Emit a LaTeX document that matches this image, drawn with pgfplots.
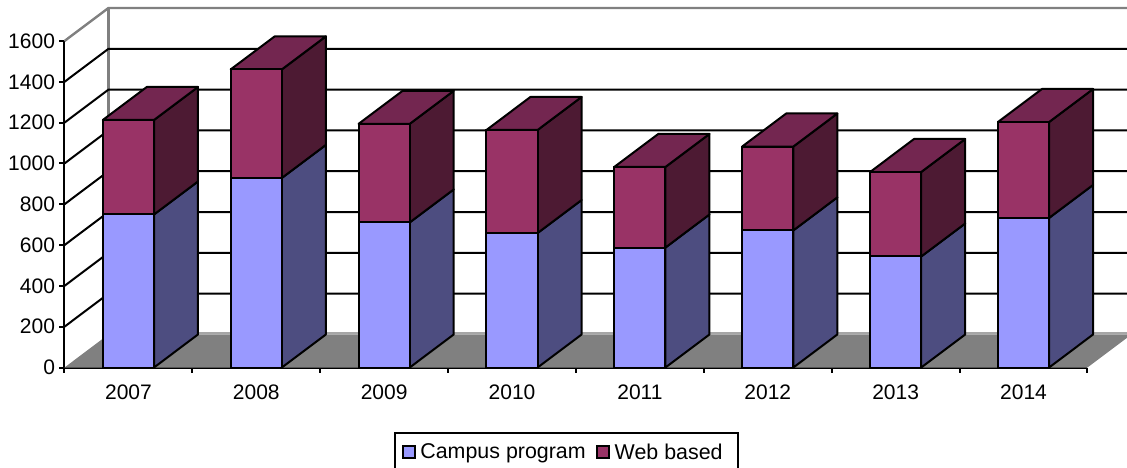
\documentclass[border=0pt]{standalone}
\usepackage{pgfplots}
\pgfplotsset{compat=1.18}
\usepackage{fontspec}
\setmainfont{Liberation Sans}
\definecolor{campus}{HTML}{9999FF}
\definecolor{campusside}{HTML}{4D4D80}
\definecolor{web}{HTML}{993366}
\definecolor{webside}{HTML}{4D1A33}
\definecolor{webtop}{HTML}{732650}
\definecolor{wall}{HTML}{808080}
\definecolor{floorback}{HTML}{A6A6A6}
% depth of the 3D view in data units
\def\ddx{0.344}
\def\ddy{161.8}
\newcommand{\gridl}[1]{%
  \pgfmathsetmacro\ya{#1+\ddy}%
  \edef\temp{\noexpand\addplot[forget plot,black,line width=2pt] coordinates {(0,#1)(\ddx,\ya)(8.344,\ya)};}\temp}
% args: left edge of bar, campus value, web value
\newcommand{\barfaces}[3]{%
  \pgfmathsetmacro\xr{#1+0.4}%
  \pgfmathsetmacro\xrb{#1+0.4+\ddx}%
  \pgfmathsetmacro\xlb{#1+\ddx}%
  \pgfmathsetmacro\yt{#2+#3}%
  \pgfmathsetmacro\ybz{\ddy}%
  \pgfmathsetmacro\ybc{#2+\ddy}%
  \pgfmathsetmacro\ybt{#2+#3+\ddy}%
  \edef\temp{\noexpand\addplot[forget plot,draw=black,line width=2pt,line join=round,fill=campusside] coordinates {(\xr,0)(\xrb,\ybz)(\xrb,\ybc)(\xr,#2)} -- cycle;
  \noexpand\addplot[forget plot,draw=black,line width=2pt,line join=round,fill=webside] coordinates {(\xr,#2)(\xrb,\ybc)(\xrb,\ybt)(\xr,\yt)} -- cycle;
  \noexpand\addplot[forget plot,draw=black,line width=2pt,line join=round,fill=webtop] coordinates {(#1,\yt)(\xlb,\ybt)(\xrb,\ybt)(\xr,\yt)} -- cycle;}\temp}
\begin{document}
\begin{tikzpicture}
\useasboundingbox (-64.5pt,-99.5pt) rectangle (1062.5pt,367.5pt);
\begin{axis}[
  scale only axis, width=1023pt, height=326.5pt,
  at={(0pt,0pt)}, anchor=origin,
  xmin=0, xmax=8, ymin=0, ymax=1600,
  clip=false,
  axis x line=bottom, axis y line=left,
  axis line style={-,black,line width=2pt},
  tick align=outside,
  major tick length=5pt,
  tick style={black,line width=2pt},
  xtick={0,1,2,3,4,5,6,7,8},
  x tick label as interval,
  xticklabels={2007,2008,2009,2010,2011,2012,2013,2014},
  ytick={0,200,400,600,800,1000,1200,1400,1600},
  /pgf/number format/assume math mode=true,
  /pgf/number format/1000 sep={},
  tick label style={font=\fontsize{21}{25}\selectfont},
  x tick label style={yshift=-9pt},
  y tick label style={xshift=-1pt},
  legend columns=2,
  legend cell align=left,
  legend style={
    at={(0.322,-0.1976)}, anchor=north west,
    draw=black, line width=2pt,
    font=\fontsize{21.4}{25}\selectfont,
    inner xsep=7pt, inner ysep=8pt,
    /tikz/every even column/.append style={column sep=6pt},
    nodes={inner xsep=4.5pt,inner ysep=2.5pt},
  },
]
% back wall
\addplot[forget plot,draw=wall,line width=2.4pt] coordinates {(0,1600)(0.344,1761.8)(8.344,1761.8)};
\addplot[forget plot,draw=wall,line width=2.4pt] coordinates {(0.344,161.8)(0.344,1761.8)};
% floor
\addplot[forget plot,draw=none,fill=floorback] coordinates {(0.344,161.8)(8.344,161.8)(8.344,175)(0.344,175)} -- cycle;
\addplot[forget plot,draw=none,fill=wall] coordinates {(0,0)(8,0)(8.344,161.8)(0.344,161.8)} -- cycle;
% gridlines
\gridl{200}\gridl{400}\gridl{600}\gridl{800}\gridl{1000}\gridl{1200}\gridl{1400}
% side and top faces
\barfaces{0.3}{750}{463}
\barfaces{1.3}{929}{532}
\barfaces{2.3}{711}{483}
\barfaces{3.3}{659}{505}
\barfaces{4.3}{588}{395}
\barfaces{5.3}{672}{411}
\barfaces{6.3}{544}{414}
\barfaces{7.3}{733}{470}
% front faces
\addplot[ybar,stack plots=y,bar width=0.4,bar shift=0pt,draw=black,line width=2pt,fill=campus,
  legend image code/.code={\draw[fill=campus,draw=black,line width=2pt] (0pt,-6pt) rectangle (12pt,6pt);}]
  coordinates {(0.5,750)(1.5,929)(2.5,711)(3.5,659)(4.5,588)(5.5,672)(6.5,544)(7.5,733)};
\addlegendentry{Campus program}
\addplot[ybar,stack plots=y,bar width=0.4,bar shift=0pt,draw=black,line width=2pt,fill=web,
  legend image code/.code={\draw[fill=web,draw=black,line width=2pt] (0pt,-6pt) rectangle (12pt,6pt);}]
  coordinates {(0.5,463)(1.5,532)(2.5,483)(3.5,505)(4.5,395)(5.5,411)(6.5,414)(7.5,470)};
\addlegendentry{Web based\hspace*{4pt}}
\end{axis}
\end{tikzpicture}
\end{document}
